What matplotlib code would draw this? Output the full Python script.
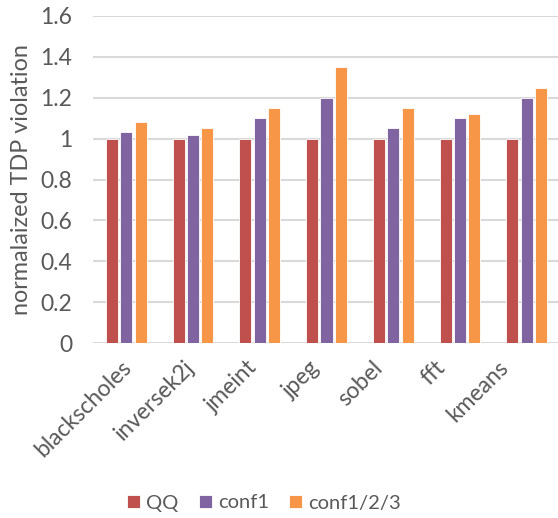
import matplotlib
matplotlib.use("Agg")
import matplotlib.pyplot as plt
import numpy as np

benchmarks = ["blackscholes", "inversek2j", "jmeint", "jpeg", "sobel", "fft", "kmeans"]
qq = [1.0, 1.0, 1.0, 1.0, 1.0, 1.0, 1.0]
conf1 = [1.03, 1.02, 1.10, 1.20, 1.05, 1.10, 1.20]
conf123 = [1.08, 1.05, 1.15, 1.35, 1.15, 1.12, 1.25]
series_names = ["QQ", "conf1", "conf1/2/3"]
colors = ["#C0504D", "#8064A2", "#F79646"]

plt.rcParams['font.family'] = ['Lato', 'DejaVu Sans']
text_color = "#595959"

fig = plt.figure(figsize=(5.58, 5.18), dpi=100)
ax = fig.add_axes([93 / 558, 175 / 518, 467 / 558, 327 / 518])

x = np.arange(len(benchmarks))
width = 0.18
step = 0.215
for i, (vals, name, c) in enumerate(zip([qq, conf1, conf123], series_names, colors)):
    ax.bar(x + (i - 1) * step, vals, width, color=c, label=name,
           edgecolor="white", linewidth=0.6, zorder=3)

ax.set_xlim(-0.5, len(benchmarks) - 0.5)
ax.set_ylim(0, 1.6)
ax.set_yticks(np.arange(0, 1.61, 0.2))
ax.set_yticklabels(["0", "0.2", "0.4", "0.6", "0.8", "1", "1.2", "1.4", "1.6"])
ax.yaxis.grid(True, color="#D9D9D9", linewidth=1.5, zorder=0)
ax.set_axisbelow(True)
for s in ax.spines.values():
    s.set_visible(False)
ax.tick_params(axis="both", length=0, labelsize=16.5, colors=text_color)
ax.tick_params(axis="y", pad=15)

# category labels sit on a slightly tighter pitch than the bar groups
label_pos = -0.08 + 0.94 * x
ax.set_xticks(label_pos)
ax.set_xticklabels(benchmarks, rotation=45, ha="right", rotation_mode="anchor")
ax.tick_params(axis="x", pad=10)

ax.set_ylabel("normalaized TDP violation", fontsize=16.8, color=text_color, labelpad=6)

fig.legend(loc="center", bbox_to_anchor=(264 / 558, 1 - 503 / 518), ncol=3,
           frameon=False, fontsize=14.5, labelcolor=text_color,
           handlelength=0.65, handleheight=0.65, handletextpad=0.3, columnspacing=1.0)

fig.savefig("out.png", dpi=100)
